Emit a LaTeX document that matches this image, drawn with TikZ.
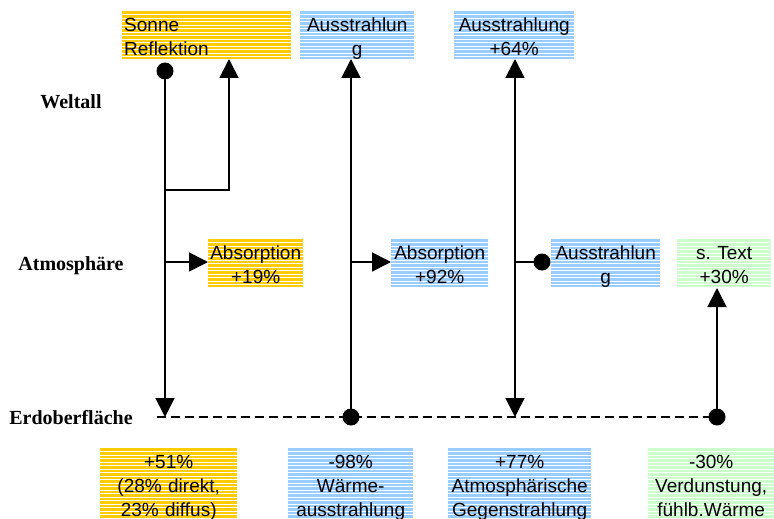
\documentclass[tikz,border=0pt]{standalone}
\usepackage{fontspec}
\setmainfont{Liberation Sans}
\newfontfamily\labelfont{Liberation Serif}
\usetikzlibrary{arrows.meta}
\definecolor{orng}{HTML}{FFCC00}
\definecolor{lblue}{HTML}{99CCFF}
\definecolor{lgreen}{HTML}{CCFFCC}
\newcommand\bs{\vrule height 20pt depth 4pt width 0pt}
\begin{document}
\begin{tikzpicture}[x=1pt,y=-1pt,
  box/.style={anchor=north west, inner xsep=2pt, inner ysep=0pt, align=center,
    font=\fontsize{19}{24}\selectfont,
    path picture={\foreach \k in {1,...,24}{\draw[white,line width=0.7pt]
      ([yshift=-\k*3.5pt]path picture bounding box.north west) --
      ([yshift=-\k*3.5pt]path picture bounding box.north east);}}},
  lab/.style={font=\labelfont\bfseries\fontsize{20}{24}\selectfont, inner sep=0pt, anchor=base},
  ln/.style={line width=1.7pt},
  arr/.style={-{Triangle[width=19pt,length=19pt]}},
  dot/.style={circle, fill=black, inner sep=0pt, minimum size=17pt},
  dsh/.style={line width=1.7pt, dash pattern=on 9pt off 5pt}
]
\useasboundingbox (0,0) rectangle (774,519);

% boxes top
\node[box, fill=orng, text width=165pt, align=left] (sonne) at (122,11) {\bs Sonne\\\bs Reflektion};
\node[box, fill=lblue, text width=110pt] (aus1) at (300,11) {\bs Ausstrahlun\\\bs g};
\node[box, fill=lblue, text width=116pt] (aus2) at (454,11) {\bs Ausstrahlung\\\bs +64\%};
% boxes middle
\node[box, fill=orng, text width=91pt] (abs1) at (208,239) {\bs Absorption\\\bs +19\%};
\node[box, fill=lblue, text width=93pt] (abs2) at (391,239) {\bs Absorption\\\bs +92\%};
\node[box, fill=lblue, text width=105pt] (aus3) at (551,239) {\bs Ausstrahlun\\\bs g};
\node[box, fill=lgreen, text width=90pt] (stext) at (677,239) {\bs s.\ Text\\\bs +30\%};
% boxes bottom
\node[box, fill=orng, text width=133pt] (b1) at (100,448) {\bs +51\%\\\bs (28\% direkt,\\\bs 23\% diffus)};
\node[box, fill=lblue, text width=121pt] (b2) at (288,448) {\bs -98\%\\\bs Wärme-\\\bs ausstrahlung};
\node[box, fill=lblue, text width=139pt] (b3) at (448,448) {\bs +77\%\\\bs Atmosphärische\\\bs Gegenstrahlung};
\node[box, fill=lgreen, text width=122pt] (b4) at (648,448) {\bs -30\%\\\bs Verdunstung,\\\bs fühlb.Wärme};

% labels
\node[lab] (weltall) at (71,109) {Weltall};
\node[lab] (atmo) at (71,270) {Atmosphäre};
\node[lab] (erde) at (71,424) {Erdoberfläche};

% coordinates
\coordinate (g0) at (157,417);
\coordinate (e1) at (165,417);
\coordinate (r0) at (165,190);
\coordinate (r1) at (229,59);
\coordinate (j1) at (165,262);
\coordinate (e2) at (351,59);
\coordinate (j2) at (351,262);
\coordinate (e3a) at (515,59);
\coordinate (e3b) at (515,417);
\coordinate (j3) at (515,262);
\coordinate (e4) at (717,288);

% ground dashed line
\node[dot] (d4) at (717,417) {};
\node[dot] (d2) at (351,417) {};
\draw[dsh] (g0) -- (d4.center);

% Sonne
\node[dot] (d1) at (165,71) {};
\draw[ln,arr] (d1.center) -- (e1);
\draw[ln,arr] (r0) -| (r1);
\draw[ln,arr] (j1) -- (j1 -| abs1.west);

% Waermeausstrahlung
\draw[ln,arr] (d2.center) -- (e2);
\draw[ln,arr] (j2) -- (j2 -| abs2.west);

% Gegenstrahlung
\draw[ln,{Triangle[width=19pt,length=19pt]}-{Triangle[width=19pt,length=19pt]}] (e3b) -- (e3a);
\node[dot] (d3) at (542,262) {};
\draw[ln] (j3) -- (d3.center);

% Verdunstung
\draw[ln,arr] (d4.center) -- (e4);
\end{tikzpicture}
\end{document}
